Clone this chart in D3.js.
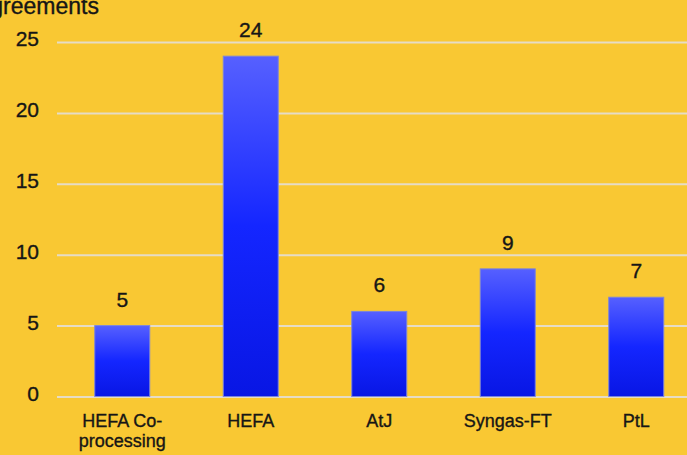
<!DOCTYPE html>
<html><head><meta charset="utf-8">
<script src="https://cdn.jsdelivr.net/npm/d3@7"></script>
<style>
html,body{margin:0;padding:0;background:#F9C833;overflow:hidden;}
svg{display:block;}
text{font-family:"Liberation Sans",Arial,sans-serif;fill:#161616;stroke:#161616;stroke-width:0.35px;}
</style></head>
<body><svg id="c" width="687" height="455"></svg>
<script>
const categories = [["HEFA Co-","processing"],["HEFA"],["AtJ"],["Syngas-FT"],["PtL"]];
const values = [5, 24, 6, 9, 7];
const yTicks = [0, 5, 10, 15, 20, 25];
const yTitle = "Agreements";

const W = 687, H = 455;
const svg = d3.select("#c");
svg.append("rect").attr("width",W).attr("height",H).attr("fill","#F9C833");

const defs = svg.append("defs");
const g = defs.append("linearGradient").attr("id","bg").attr("x1",0).attr("y1",0).attr("x2",0).attr("y2",1);
g.append("stop").attr("offset","0%").attr("stop-color","#5660FF");
g.append("stop").attr("offset","50%").attr("stop-color","#1426FF");
g.append("stop").attr("offset","100%").attr("stop-color","#0816E4");

const x = d3.scaleBand().domain(d3.range(values.length)).range([58, 700.5]).paddingInner(0.572).paddingOuter(0.286);
const y = d3.scaleLinear().domain([0, 25]).range([396.5, 42]);

// gridlines
const grid = svg.append("g").attr("transform","translate(57,0)")
  .call(d3.axisLeft(y).tickValues(yTicks).tickSize(-(W-57)).tickFormat(""));
grid.select(".domain").remove();
grid.selectAll("line").attr("stroke","#E6DCC6").attr("stroke-width",2);

// y tick labels
svg.append("g").selectAll("text").data(yTicks).join("text")
  .attr("x", 39).attr("y", d => y(d) - 3).attr("dy","0.35em")
  .attr("text-anchor","end").attr("font-size", 21).text(d => d);

// bars
svg.append("g").selectAll("rect").data(values).join("rect")
  .attr("x",(d,i)=>x(i)).attr("width",x.bandwidth())
  .attr("y",d=>y(d)).attr("height",d=>y(0)-y(d))
  .attr("fill","url(#bg)").attr("stroke","#7C84D8").attr("stroke-width",1);

// value labels
svg.append("g").selectAll("text").data(values).join("text")
  .attr("x",(d,i)=>x(i)+x.bandwidth()/2).attr("y",d=>y(d)-19)
  .attr("text-anchor","middle").attr("font-size",21).text(d=>d);

// category labels
const cl = svg.append("g").selectAll("text").data(categories).join("text")
  .attr("x",(d,i)=>x(i)+x.bandwidth()/2).attr("y",427)
  .attr("text-anchor","middle").attr("font-size",18);
cl.selectAll("tspan").data(d=>d).join("tspan")
  .attr("x", function(){ return this.parentNode.getAttribute("x"); })
  .attr("dy",(d,i)=> i===0 ? 0 : 20).text(d=>d);

// y title (clipped at left)
svg.append("text").attr("x",99).attr("y",14).attr("text-anchor","end")
  .attr("font-size",23).text(yTitle);
</script></body></html>
